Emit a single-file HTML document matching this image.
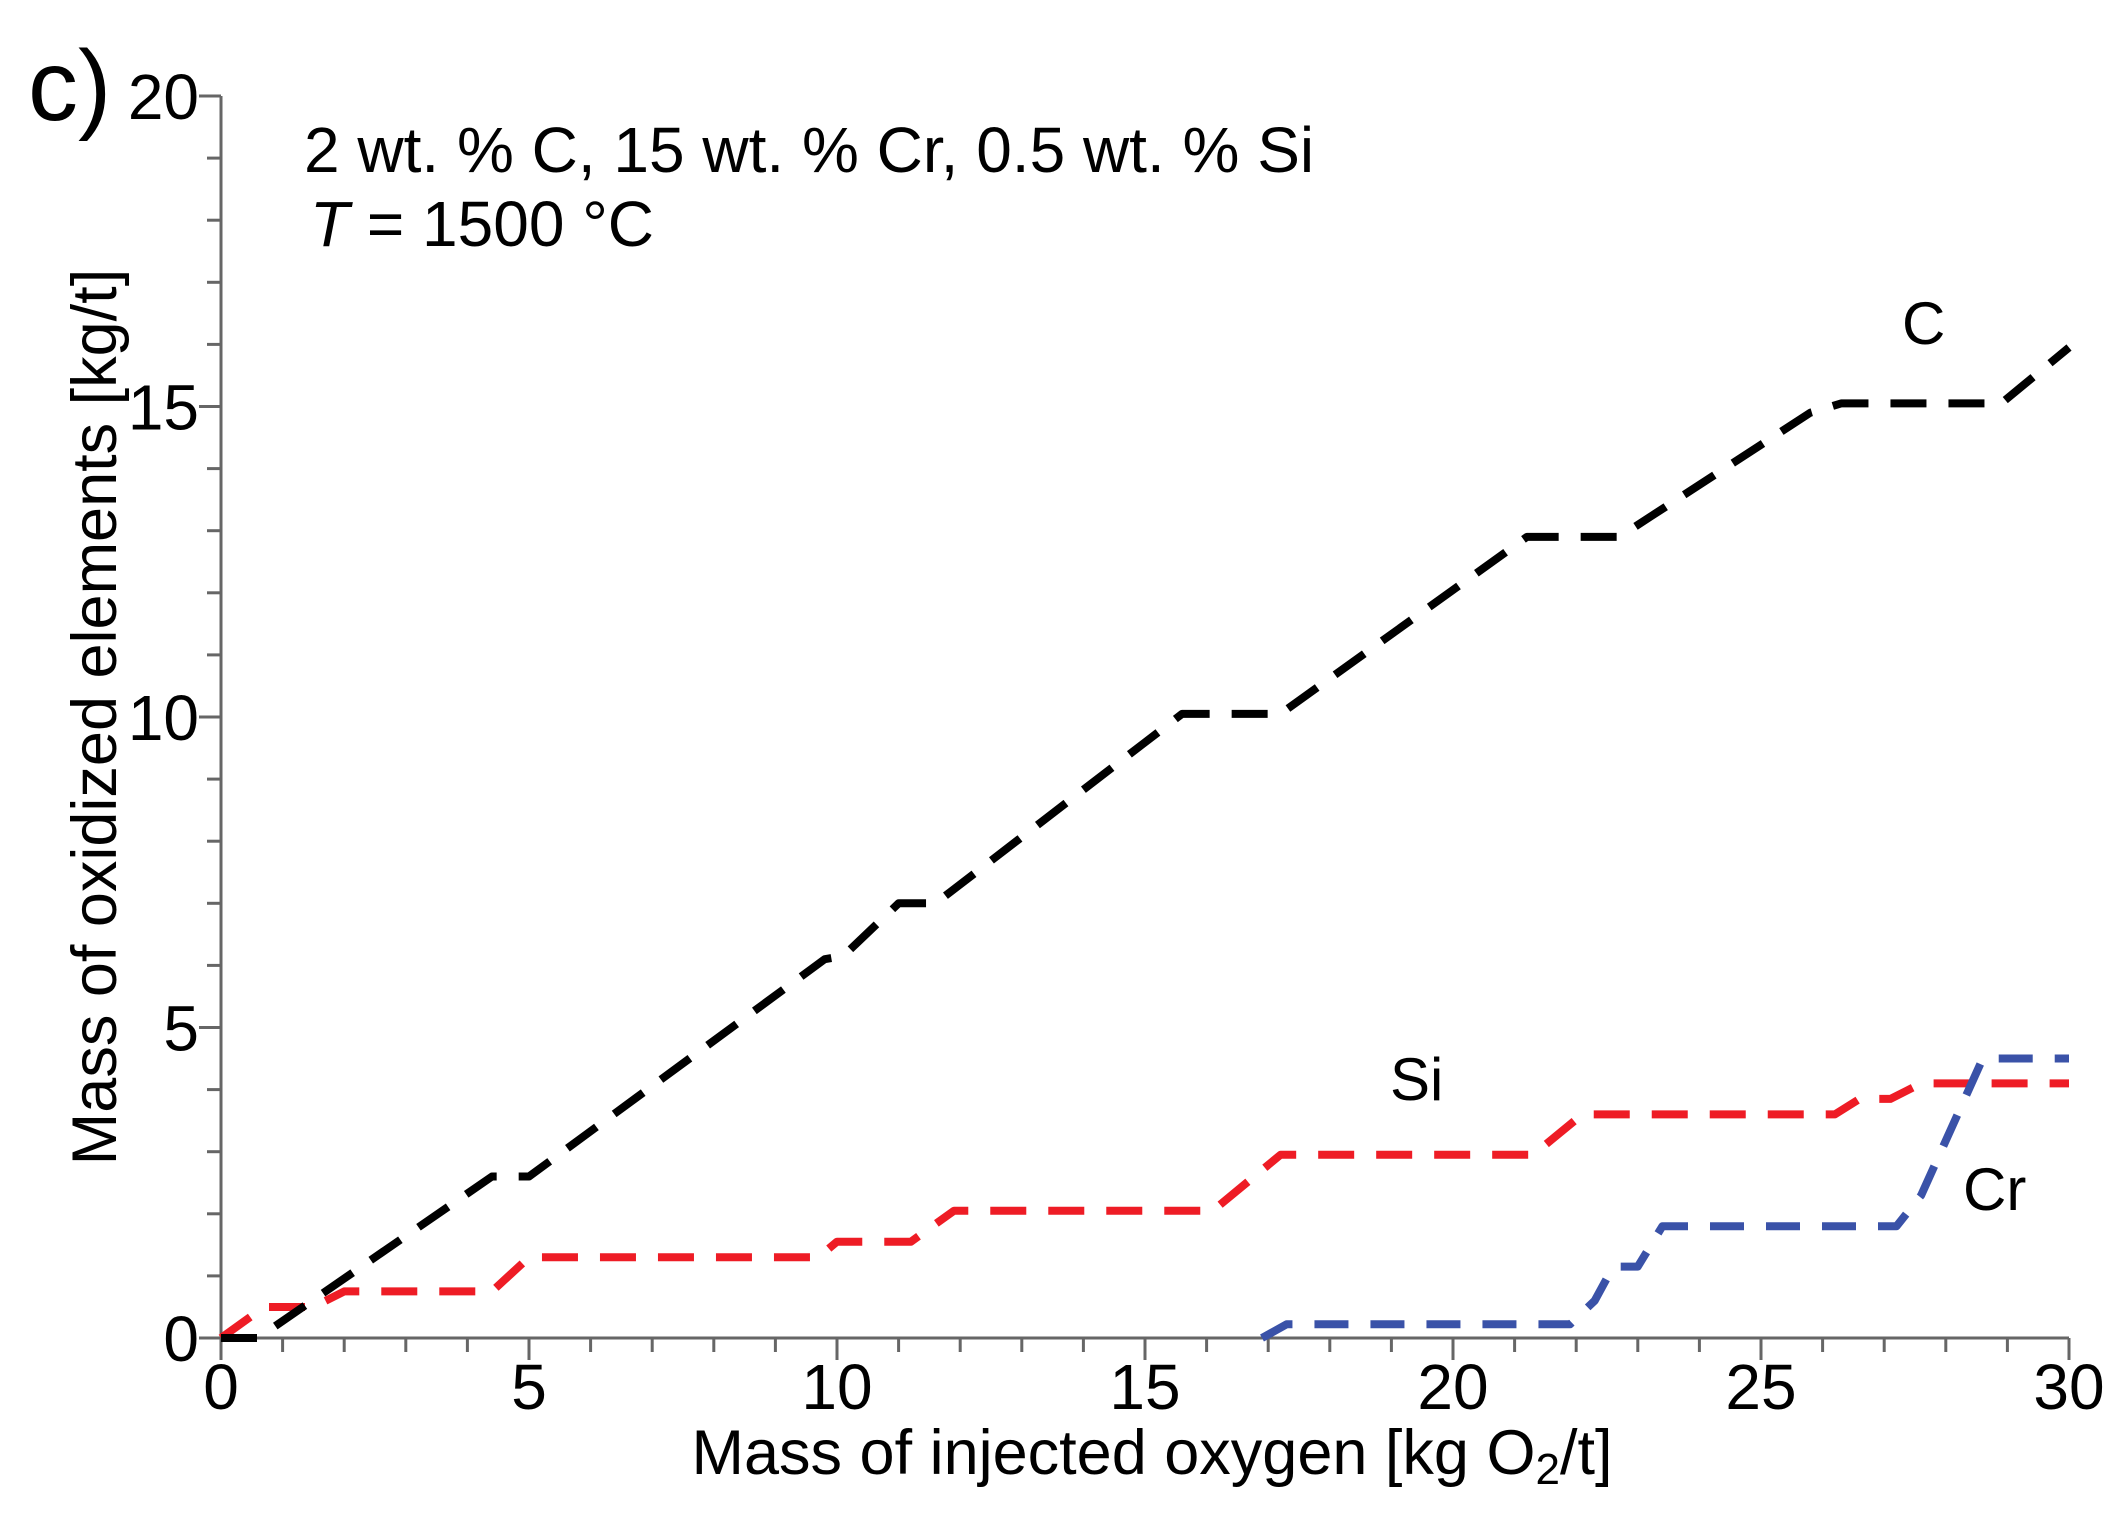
<!DOCTYPE html>
<html><head><meta charset="utf-8"><style>
html,body{margin:0;padding:0;background:#fff;}
svg{display:block;font-family:"Liberation Sans",sans-serif;}
</style></head><body>
<svg id="chart" width="2121" height="1528" viewBox="0 0 2121 1528" xmlns="http://www.w3.org/2000/svg">
<text x="28" y="120" font-size="100">c)</text>
<text x="304" y="172" font-size="64">2 wt. % C, 15 wt. % Cr, 0.5 wt. % Si</text>
<text x="310" y="246" font-size="64"><tspan font-style="italic">T</tspan> = 1500 °C</text>
<g id="axes"></g>
<g id="series"></g>
<text x="1902" y="344" font-size="60">C</text>
<text x="1390" y="1100" font-size="60">Si</text>
<text x="1963" y="1210" font-size="60">Cr</text>
<text x="1152" y="1474" font-size="63" text-anchor="middle">Mass of injected oxygen [kg O<tspan font-size="44" dy="10">2</tspan><tspan dy="-10">/t]</tspan></text>
<text transform="translate(116,717) rotate(-90)" font-size="63" text-anchor="middle">Mass of oxidized elements [kg/t]</text>
</svg>
<script>
const xTicks = [0,5,10,15,20,25,30];
const yTicks = [0,5,10,15,20];
const cX = [0,0.6,4.4,5.0,9.8,10.1,11.0,11.6,15.6,17.2,21.2,22.7,25.8,26.3,28.9,30];
const cY = [0,0,2.6,2.6,6.1,6.15,7.0,7.0,10.05,10.05,12.9,12.9,14.9,15.05,15.05,15.95];
const siX = [0,0.7,1.5,2.0,4.4,5.0,9.7,10.0,11.2,11.9,16.1,17.2,21.3,22.1,26.2,26.6,27.1,27.6,30];
const siY = [0,0.5,0.5,0.75,0.75,1.3,1.3,1.55,1.55,2.05,2.05,2.95,2.95,3.6,3.6,3.85,3.85,4.1,4.1];
const crX = [16.9,17.3,21.9,22.3,22.6,23.0,23.4,27.2,27.6,28.6,30];
const crY = [0,0.22,0.22,0.6,1.15,1.15,1.8,1.8,2.3,4.5,4.5];

const X0=221, X1=2069, Y0=1338, Y1=96;
function sx(v){return X0+(X1-X0)*v/30;}
function sy(v){return Y0-(Y0-Y1)*v/20;}
const NS='http://www.w3.org/2000/svg';
const axes=document.getElementById('axes');
function mk(tag,attrs,parent){const e=document.createElementNS(NS,tag);for(const k in attrs)e.setAttribute(k,attrs[k]);parent.appendChild(e);return e;}
let l=mk('line',{x1:X0,y1:Y0,x2:X1,y2:Y0,stroke:'#666','stroke-width':3},axes);


l=mk('line',{x1:X0,y1:Y0,x2:X0,y2:Y1,stroke:'#666','stroke-width':3},axes);


for(let i=0;i<=30;i++){
  const maj=i%5===0;
  const t=mk('line',{x1:sx(i),y1:Y0,x2:sx(i),y2:Y0+(maj?22:14),stroke:'#666','stroke-width':3},axes);
  
  
}
for(let i=0;i<=20;i++){
  const maj=i%5===0;
  const t=mk('line',{x1:X0,y1:sy(i),x2:X0-(maj?22:14),y2:sy(i),stroke:'#666','stroke-width':3},axes);
  
  
}
xTicks.forEach(v=>{
  const t=mk('text',{x:sx(v),y:1409,'font-size':64,'text-anchor':'middle'},axes);
  t.textContent=v;
  
  
});
yTicks.forEach(v=>{
  const t=mk('text',{x:199,y:sy(v)+23,'font-size':64,'text-anchor':'end'},axes);
  t.textContent=v;
  
  
});
const series=document.getElementById('series');
function draw(xs,ys,color,name,dash){
  const d=xs.map((x,i)=>(i?'L':'M')+sx(x).toFixed(1)+','+sy(ys[i]).toFixed(1)).join(' ');
  const p=mk('path',{d:d,fill:'none',stroke:color,'stroke-width':8,'stroke-dasharray':dash,'stroke-linejoin':'round'},series);
  
  
}
draw(siX,siY,'#ee1c25','series-si','36 22');
draw(crX,crY,'#3a52a8','series-cr','34 22');
draw(cX,cY,'#000','series-c','36 22');
</script>
</body></html>
